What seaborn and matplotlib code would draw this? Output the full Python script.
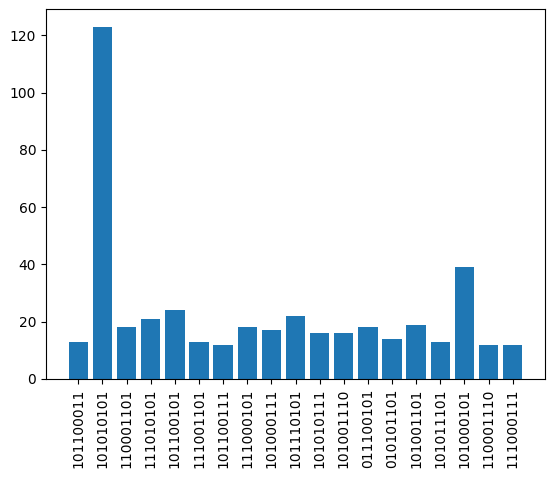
import matplotlib
matplotlib.use("Agg")
import matplotlib.pyplot as plt
import seaborn as sns
import pandas as pd

labels = ["101100011", "101010101", "110001101", "111010101", "101100101",
          "111001101", "101100111", "111000101", "101000111", "101110101",
          "101010111", "101001110", "011100101", "010101101", "101001101",
          "101011101", "101000101", "110001110", "111000111"]
counts = [13, 123, 18, 21, 24, 13, 12, 18, 17, 22, 16, 16, 18, 14, 19, 13, 39, 12, 12]

df = pd.DataFrame({"label": labels, "count": counts})

fig = plt.figure(figsize=(5.52, 4.78), dpi=100)
ax = fig.add_axes([46 / 552, (478 - 379) / 478, 499 / 552, 370 / 478])
sns.barplot(data=df, x="label", y="count", color="#1f77b4", saturation=1,
            width=0.8, ax=ax, order=labels)

n = len(labels)
span = (n - 1) + 0.8
ax.set_xlim(-0.4 - 0.05 * span, n - 1 + 0.4 + 0.05 * span)
ax.set_ylim(0, max(counts) * 1.05)
ax.set_xlabel("")
ax.set_ylabel("")
ax.tick_params(axis="x", rotation=90)

fig.savefig("out.png", dpi=100)
